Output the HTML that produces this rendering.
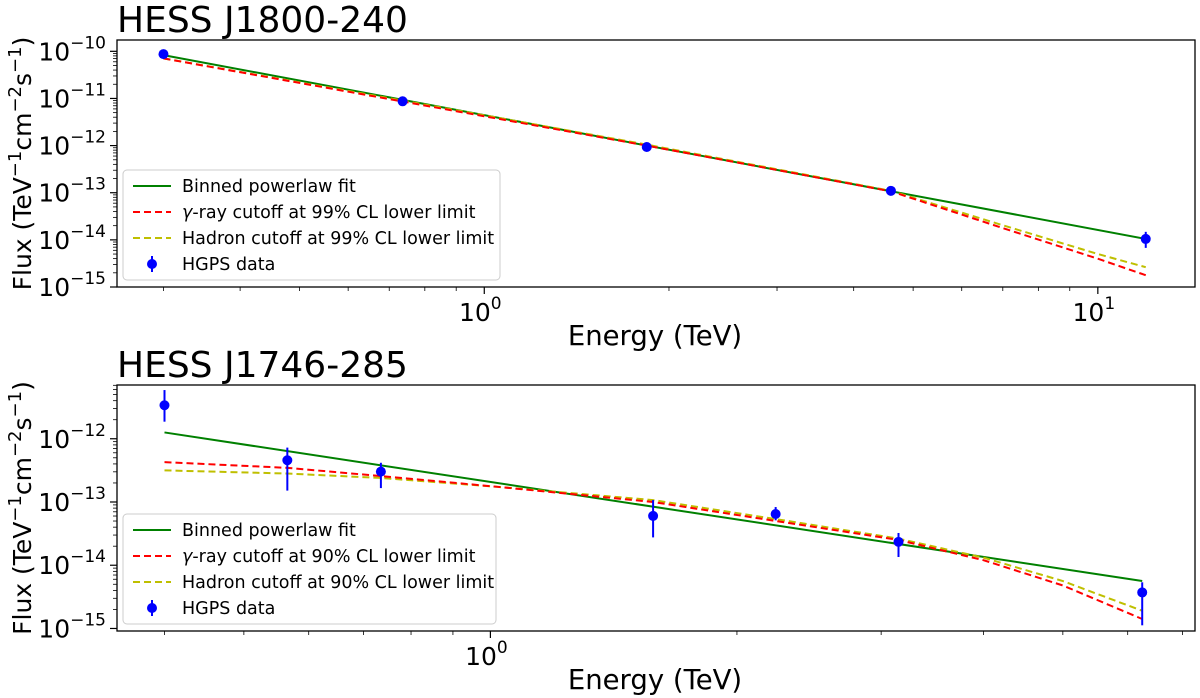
<!DOCTYPE html>
<html><head><meta charset="utf-8"><style>
body{margin:0;background:#fff;}
svg{display:block;font-family:"DejaVu Sans","Liberation Sans",sans-serif;}
</style></head><body>
<svg id="fig" width="1200" height="698" viewBox="0 0 1200 698"></svg>
<script>
// ---- Panel 1 data (HESS J1800-240) ----
const p1DataE = [0.30, 0.736, 1.84, 4.6, 11.97];
const p1DataF = [-10.06, -11.06, -12.03, -12.96, -13.98];
const p1ErrLo = [-10.09, -11.08, -12.05, -12.99, -14.17];
const p1ErrHi = [-10.03, -11.04, -12.01, -12.93, -13.83];
const p1PowE = [0.30, 11.97];
const p1PowF = [-10.08, -13.98];
const p1CutE = [0.30, 0.74, 1.84, 4.6, 7.0, 10.0, 11.97];
const p1RedF = [-10.15, -11.07, -12.0, -12.97, -13.75, -14.4, -14.75];
const p1YelF = [-10.15, -11.05, -11.98, -12.96, -13.69, -14.3, -14.58];
// ---- Panel 2 data (HESS J1746-285) ----
const p2DataE = [0.40, 0.565, 0.735, 1.58, 2.23, 3.15, 6.25];
const p2DataF = [-11.47, -12.34, -12.52, -13.22, -13.19, -13.63, -14.43];
const p2ErrLo = [-11.73, -12.82, -12.78, -13.56, -13.29, -13.87, -14.95];
const p2ErrHi = [-11.23, -12.14, -12.38, -12.97, -13.08, -13.49, -14.27];
const p2PowE = [0.40, 6.25];
const p2PowF = [-11.9, -14.25];
const p2CutE = [0.40, 0.565, 0.735, 1.02, 1.58, 2.23, 3.15, 4.0, 5.0, 6.25];
const p2RedF = [-12.37, -12.46, -12.59, -12.76, -13.0, -13.3, -13.6, -13.92, -14.32, -14.85];
const p2YelF = [-12.5, -12.55, -12.62, -12.76, -12.97, -13.27, -13.58, -13.88, -14.25, -14.72];
const p1Legend = ["Binned powerlaw fit", "γ-ray cutoff at 99% CL lower limit", "Hadron cutoff at 99% CL lower limit", "HGPS data"];
const p2Legend = ["Binned powerlaw fit", "γ-ray cutoff at 90% CL lower limit", "Hadron cutoff at 90% CL lower limit", "HGPS data"];

const NS = "http://www.w3.org/2000/svg";
const svg = document.getElementById("fig");
function mk(tag, attrs, parent) {
  const e = document.createElementNS(NS, tag);
  for (const k in attrs) e.setAttribute(k, attrs[k]);
  (parent || svg).appendChild(e);
  return e;
}

function panel(cfg) {
  const g = mk("g", {});
  
  
  const X = e => cfg.x0 + (Math.log10(e) - cfg.lx0) / (cfg.lx1 - cfg.lx0) * (cfg.x1 - cfg.x0);
  const Y = l => cfg.y1 - (l - cfg.ly0) / (cfg.ly1 - cfg.ly0) * (cfg.y1 - cfg.y0);
  const t = mk("text", {x: 117, y: cfg.y0 - 8, "font-size": 36}, g);
  t.textContent = cfg.title;
  
  
  for (let d = Math.ceil(cfg.ly0) - 1; d <= Math.floor(cfg.ly1); d++) {
    for (let m = 1; m < 10; m++) {
      const l = d + Math.log10(m);
      if (l < cfg.ly0 - 1e-6 || l > cfg.ly1) continue;
      const y = Y(l);
      mk("line", {x1: cfg.x0, x2: cfg.x0 - (m === 1 ? 7 : 4), y1: y, y2: y, stroke: "#000", "stroke-width": m === 1 ? 1.2 : 0.8}, g);
      if (m === 1) {
        const tx = mk("text", {x: cfg.x0 - 11, y: y + 9, "font-size": 25, "text-anchor": "end"}, g);
        
        
        tx.innerHTML = '10<tspan dy="-12" font-size="17">−' + (-d) + '</tspan>';
      }
    }
  }
  for (let d = Math.floor(cfg.lx0); d <= Math.ceil(cfg.lx1); d++) {
    for (let m = 1; m < 10; m++) {
      const l = d + Math.log10(m);
      if (l < cfg.lx0 || l > cfg.lx1) continue;
      const x = X(Math.pow(10, l));
      mk("line", {x1: x, x2: x, y1: cfg.y1, y2: cfg.y1 + (m === 1 ? 7 : 4), stroke: "#000", "stroke-width": m === 1 ? 1.2 : 0.8}, g);
      if (m === 1) {
        const tx = mk("text", {x: x - 4, y: cfg.y1 + 34, "font-size": 25, "text-anchor": "middle"}, g);
        
        
        tx.innerHTML = '10<tspan dy="-12" font-size="17">' + d + '</tspan>';
      }
    }
  }
  const xl = mk("text", {x: 655, y: cfg.y1 + 58, "font-size": 27.5, "text-anchor": "middle"}, g);
  xl.textContent = "Energy (TeV)";
  
  
  const cy = (cfg.y0 + cfg.y1) / 2;
  const yl = mk("text", {x: 0, y: 0, "font-size": 25, "text-anchor": "middle", transform: "translate(31," + cy + ") rotate(-90)"}, g);
  yl.innerHTML = 'Flux (TeV<tspan dy="-10" font-size="18">−1</tspan><tspan dy="10">cm</tspan><tspan dy="-10" font-size="18">−2</tspan><tspan dy="10">s</tspan><tspan dy="-10" font-size="18">−1</tspan><tspan dy="10">)</tspan>';
  
  
  const line = (E, F, color, dash, nm) => {
    const p = mk("polyline", {points: E.map((e, i) => X(e) + "," + Y(F[i])).join(" "), fill: "none", stroke: color, "stroke-width": 2, "stroke-dasharray": dash || "none"}, g);
    
    
  };
  line(cfg.powE, cfg.powF, "#008000", null, "powerlaw-fit-line");
  line(cfg.cutE, cfg.yelF, "#bfbf00", "7,4", "hadron-cutoff-line");
  line(cfg.cutE, cfg.redF, "#ff0000", "7,4", "gamma-cutoff-line");
  cfg.dE.forEach((e, i) => {
    const x = X(e);
    const el = mk("line", {x1: x, x2: x, y1: Y(cfg.eLo[i]), y2: Y(cfg.eHi[i]), stroke: "#0000ff", "stroke-width": 2}, g);
    
    
    const c = mk("circle", {cx: x, cy: Y(cfg.dF[i]), r: 5, fill: "#0000ff"}, g);
    
    
  });
  mk("rect", {x: cfg.x0, y: cfg.y0, width: cfg.x1 - cfg.x0, height: cfg.y1 - cfg.y0, fill: "none", stroke: "#000", "stroke-width": 1.3}, g);
  const lg = mk("g", {}, g);
  
  
  mk("rect", {x: cfg.lx, y: cfg.ly, width: cfg.lw, height: 110, rx: 4, fill: "#fff", "fill-opacity": 0.8, stroke: "#ccc"}, lg);
  const cols = ["#008000", "#ff0000", "#bfbf00"];
  cfg.legend.forEach((s, i) => {
    const y = cfg.ly + 16 + i * 26;
    if (i < 3) mk("line", {x1: cfg.lx + 10, x2: cfg.lx + 48, y1: y, y2: y, stroke: cols[i], "stroke-width": 2, "stroke-dasharray": i ? "7,4" : "none"}, lg);
    else {
      mk("line", {x1: cfg.lx + 29, x2: cfg.lx + 29, y1: y - 8, y2: y + 8, stroke: "#0000ff", "stroke-width": 2}, lg);
      mk("circle", {cx: cfg.lx + 29, cy: y, r: 5, fill: "#0000ff"}, lg);
    }
    const tx = mk("text", {x: cfg.lx + 59, y: y + 6, "font-size": 17.5}, lg);
    tx.textContent = s;
    if (i === 1) tx.innerHTML = '<tspan font-style="italic">γ</tspan>' + s.slice(1);
    
    
  });
}

panel({name: "panel-hess-j1800", title: "HESS J1800-240", x0: 117, x1: 1195, y0: 40, y1: 287,
  lx0: Math.log10(0.252), lx1: Math.log10(14.4), ly0: -15, ly1: -9.76,
  dE: p1DataE, dF: p1DataF, eLo: p1ErrLo, eHi: p1ErrHi, powE: p1PowE, powF: p1PowF,
  cutE: p1CutE, redF: p1RedF, yelF: p1YelF, legend: p1Legend, lx: 123, ly: 170, lw: 377});
panel({name: "panel-hess-j1746", title: "HESS J1746-285", x0: 117, x1: 1195, y0: 385, y1: 631,
  lx0: Math.log10(0.35), lx1: Math.log10(7.25), ly0: -15.04, ly1: -11.15,
  dE: p2DataE, dF: p2DataF, eLo: p2ErrLo, eHi: p2ErrHi, powE: p2PowE, powF: p2PowF,
  cutE: p2CutE, redF: p2RedF, yelF: p2YelF, legend: p2Legend, lx: 123, ly: 514, lw: 373});
</script>
</body></html>
